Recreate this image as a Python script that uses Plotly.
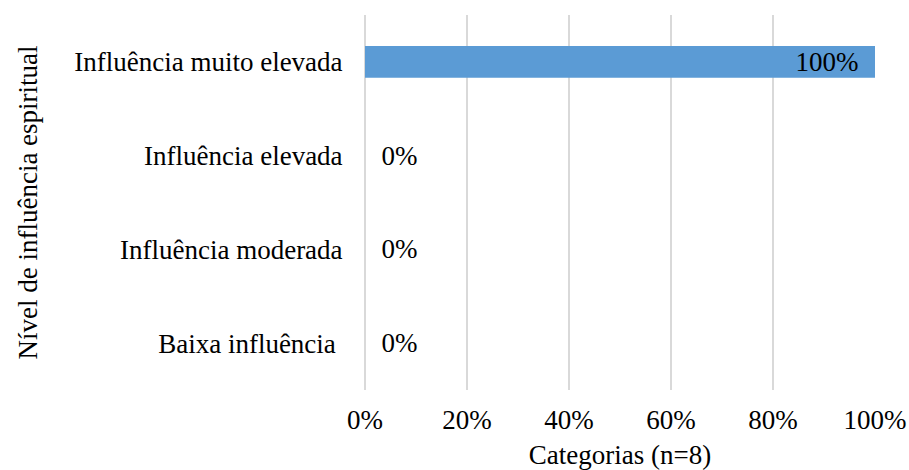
import plotly.graph_objects as go

categories = ["Baixa influência\u00a0", "Influência moderada", "Influência elevada", "Influência muito elevada"]
values = [0, 0, 0, 100]
labels = ["0%", "0%", "0%", "100%"]
label_pos = ["outside", "outside", "outside", "inside"]
tick_vals = [0, 20, 40, 60, 80, 100]
tick_text = ["0%", "20%", "40%", "60%", "80%", "100%"]

FONT = "Liberation Serif, Times New Roman, serif"
SIZE = 27

fig = go.Figure()
fig.add_trace(go.Bar(
    x=values,
    y=categories,
    orientation="h",
    marker=dict(color="#5B9BD5", line=dict(width=0)),
    text=labels,
    texttemplate=["\u2002%{text}"] * 3 + ["%{text}\u2002"],
    textposition=label_pos,
    insidetextanchor="end",
    constraintext="none",
    textfont=dict(family=FONT, size=SIZE, color="#000000"),
    cliponaxis=False,
))

fig.update_layout(
    width=909, height=470,
    margin=dict(l=365, r=34, t=15, b=80),
    paper_bgcolor="white", plot_bgcolor="white",
    font=dict(family=FONT, size=SIZE, color="#000000"),
    bargap=0.66,
    showlegend=False,
)
fig.update_xaxes(
    range=[0, 100], tickvals=tick_vals, ticktext=tick_text,
    showgrid=True, gridcolor="#D9D9D9", gridwidth=2,
    zeroline=True, zerolinecolor="#D9D9D9", zerolinewidth=2,
    showline=False, automargin=False,
    ticks="outside", ticklen=6, tickcolor="rgba(0,0,0,0)",
    title=dict(text="Categorias (n=8)", standoff=10, font=dict(size=SIZE)),
)
fig.update_yaxes(
    categoryorder="array", categoryarray=categories,
    showgrid=False, zeroline=False, showline=False, automargin=False,
    ticks="outside", ticklen=16, tickcolor="rgba(0,0,0,0)",
    title=dict(text="Nível de influência espiritual", standoff=28, font=dict(size=SIZE)),
)

# drop the default page margin so the figure fills the window exactly
fig.write_html(
    "out.html",
    config={"displayModeBar": False},
    post_script="document.body.style.margin='0';document.body.style.overflow='hidden';",
)
